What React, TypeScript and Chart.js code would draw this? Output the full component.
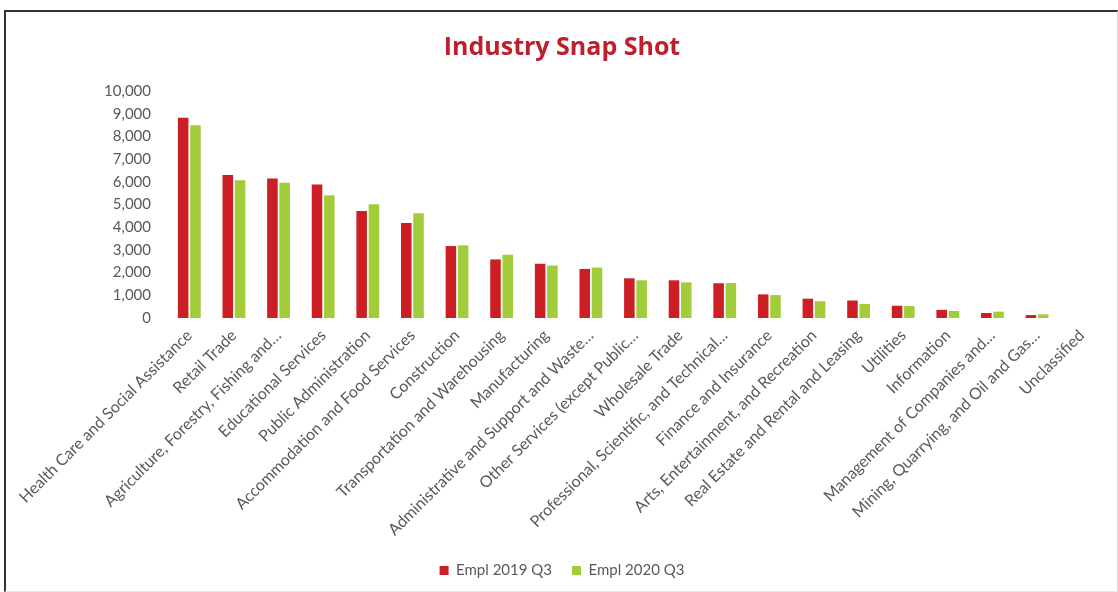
import React, { useEffect, useRef } from "react";
import { Chart, registerables } from "chart.js";

Chart.register(...registerables);

const categories: string[] = [
  "Health Care and Social Assistance",
  "Retail Trade",
  "Agriculture, Forestry, Fishing and…",
  "Educational Services",
  "Public Administration",
  "Accommodation and Food Services",
  "Construction",
  "Transportation and Warehousing",
  "Manufacturing",
  "Administrative and Support and Waste…",
  "Other Services (except Public…",
  "Wholesale Trade",
  "Professional, Scientific, and Technical…",
  "Finance and Insurance",
  "Arts, Entertainment, and Recreation",
  "Real Estate and Rental and Leasing",
  "Utilities",
  "Information",
  "Management of Companies and…",
  "Mining, Quarrying, and Oil and Gas…",
  "Unclassified",
];

const empl2019Q3: number[] = [
  8820, 6300, 6150, 5880, 4710, 4180, 3170, 2580, 2390, 2160, 1750, 1660, 1530,
  1040, 850, 770, 540, 360, 220, 130, 0,
];

const empl2020Q3: number[] = [
  8490, 6070, 5960, 5410, 5010, 4620, 3200, 2790, 2310, 2220, 1660, 1570, 1540,
  1010, 740, 620, 530, 310, 280, 160, 0,
];

const seriesNames: string[] = ["Empl 2019 Q3", "Empl 2020 Q3"];
const yTickMax = 10000;
const yTickStep = 1000;

const FONT = "Lato, 'Open Sans', sans-serif";

export default function App() {
  const canvasRef = useRef<HTMLCanvasElement | null>(null);

  useEffect(() => {
    const canvas = canvasRef.current;
    if (!canvas) return;
    const chart = new Chart(canvas, {
      type: "bar",
      data: {
        labels: categories,
        datasets: [
          {
            label: seriesNames[0],
            data: empl2019Q3,
            backgroundColor: "#CC1F25",
            borderWidth: 0,
            categoryPercentage: 0.55,
            barPercentage: 0.86,
          },
          {
            label: seriesNames[1],
            data: empl2020Q3,
            backgroundColor: "#A2CD3A",
            borderWidth: 0,
            categoryPercentage: 0.55,
            barPercentage: 0.86,
          },
        ],
      },
      options: {
        animation: false,
        responsive: false,
        maintainAspectRatio: false,
        layout: { padding: { top: 34, left: 20, right: 14, bottom: 4 } },
        plugins: {
          title: {
            display: true,
            text: "Industry Snap Shot",
            color: "#BE1E2D",
            font: { family: "'Open Sans', sans-serif", size: 25, weight: "bold", lineHeight: 1.1 },
            padding: { top: 0, bottom: 29.5 },
          },
          legend: {
            position: "bottom",
            labels: {
              color: "#595959",
              font: { family: FONT, size: 15 },
              boxWidth: 9,
              boxHeight: 9,
              padding: 20,
            },
          },
          tooltip: { enabled: false },
        },
        scales: {
          x: {
            grid: { display: false, drawTicks: false },
            border: { display: false },
            ticks: {
              color: "#595959",
              font: { family: FONT, size: 16 },
              autoSkip: false,
              minRotation: 45,
              maxRotation: 45,
              padding: 8,
            },
            afterFit: (scale: any) => {
              scale.height = 225;
            },
          },
          y: {
            min: 0,
            max: yTickMax,
            grid: { display: false, drawTicks: false },
            border: { display: false },
            ticks: {
              stepSize: yTickStep,
              color: "#595959",
              font: { family: FONT, size: 15 },
              padding: 16,
              callback: (v: any) => Number(v).toLocaleString("en-US"),
            },
            afterFit: (scale: any) => {
              scale.width = 147;
            },
          },
        },
      },
    });
    return () => chart.destroy();
  }, []);

  return (
    <div
      style={{
        position: "fixed",
        left: 0,
        top: 0,
        width: 1118,
        height: 592,
        background: "#ffffff",
        overflow: "hidden",
      }}
    >
      <canvas
        ref={canvasRef}
        width={1118}
        height={592}
        style={{ display: "block", width: 1118, height: 592 }}
      />
      <div
        style={{
          position: "absolute",
          left: 4,
          top: 10,
          width: 1111,
          height: 579,
          borderTop: "2px solid #333333",
          borderLeft: "2px solid #333333",
          borderRight: "1px solid #d9d9d9",
          borderBottom: "1px solid #e8e8e8",
          pointerEvents: "none",
        }}
      />
    </div>
  );
}
